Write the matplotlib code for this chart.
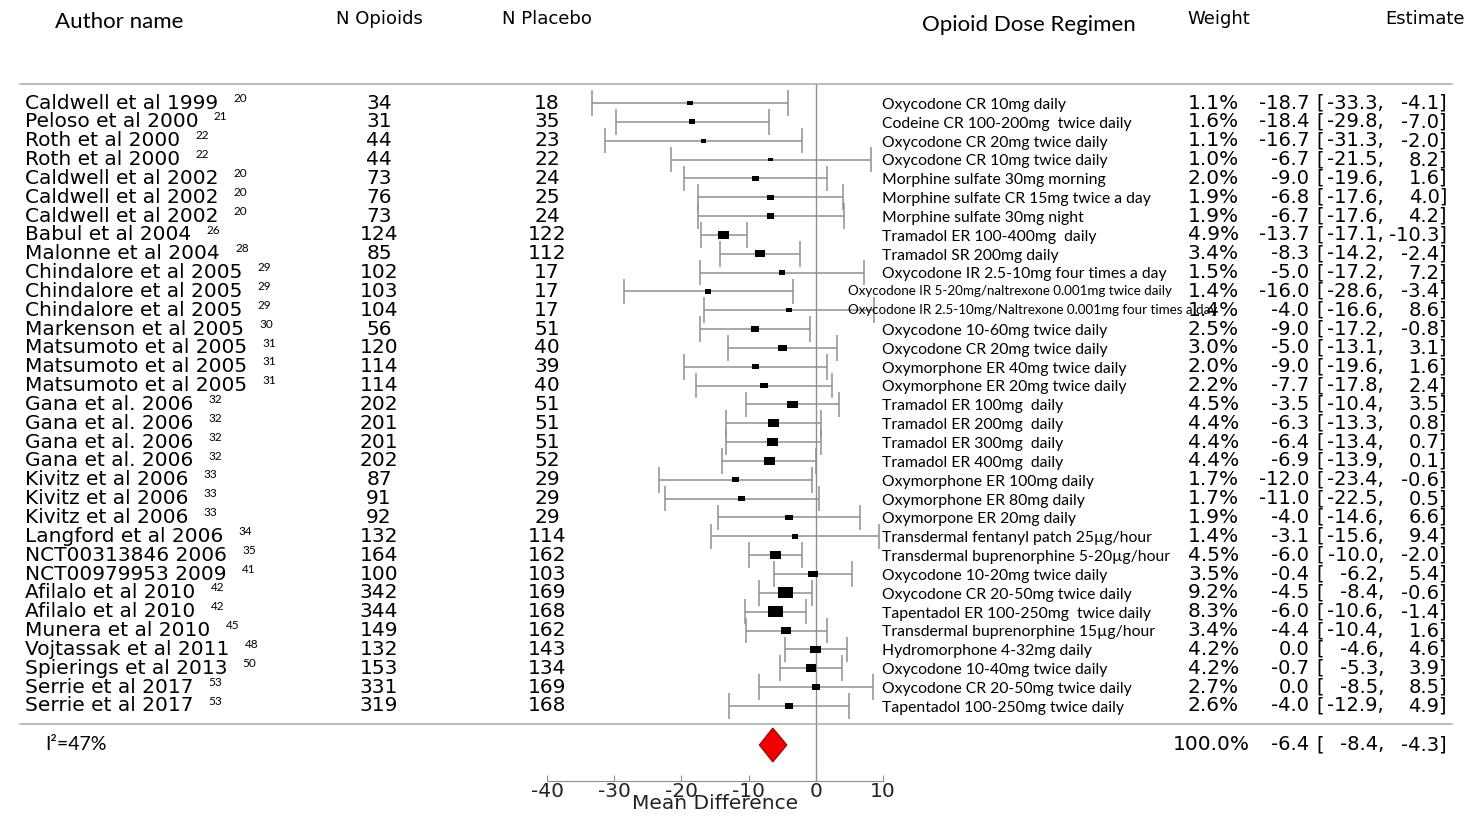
import numpy as np
import matplotlib
matplotlib.use("Agg")
import matplotlib.pyplot as plt
from matplotlib.transforms import blended_transform_factory
from matplotlib.patches import Polygon

authors = ["Caldwell et al 1999", "Peloso et al 2000", "Roth et al 2000", "Roth et al 2000",
           "Caldwell et al 2002", "Caldwell et al 2002", "Caldwell et al 2002", "Babul et al 2004",
           "Malonne et al 2004", "Chindalore et al 2005", "Chindalore et al 2005", "Chindalore et al 2005",
           "Markenson et al 2005", "Matsumoto et al 2005", "Matsumoto et al 2005", "Matsumoto et al 2005",
           "Gana et al. 2006", "Gana et al. 2006", "Gana et al. 2006", "Gana et al. 2006",
           "Kivitz et al 2006", "Kivitz et al 2006", "Kivitz et al 2006", "Langford et al 2006",
           "NCT00313846 2006", "NCT00979953 2009", "Afilalo et al 2010", "Afilalo et al 2010",
           "Munera et al 2010", "Vojtassak et al 2011", "Spierings et al 2013", "Serrie et al 2017",
           "Serrie et al 2017"]
refs = ["20", "21", "22", "22", "20", "20", "20", "26", "28", "29", "29", "29", "30", "31", "31", "31",
        "32", "32", "32", "32", "33", "33", "33", "34", "35", "41", "42", "42", "45", "48", "50", "53", "53"]
n_opioids = [34, 31, 44, 44, 73, 76, 73, 124, 85, 102, 103, 104, 56, 120, 114, 114,
             202, 201, 201, 202, 87, 91, 92, 132, 164, 100, 342, 344, 149, 132, 153, 331, 319]
n_placebo = [18, 35, 23, 22, 24, 25, 24, 122, 112, 17, 17, 17, 51, 40, 39, 40,
             51, 51, 51, 52, 29, 29, 29, 114, 162, 103, 169, 168, 162, 143, 134, 169, 168]
doses = ["Oxycodone CR 10mg daily",
         "Codeine CR 100-200mg  twice daily",
         "Oxycodone CR 20mg twice daily",
         "Oxycodone CR 10mg twice daily",
         "Morphine sulfate 30mg morning",
         "Morphine sulfate CR 15mg twice a day",
         "Morphine sulfate 30mg night",
         "Tramadol ER 100-400mg  daily",
         "Tramadol SR 200mg daily",
         "Oxycodone IR 2.5-10mg four times a day",
         "Oxycodone IR 5-20mg/naltrexone 0.001mg twice daily",
         "Oxycodone IR 2.5-10mg/Naltrexone 0.001mg four times a day",
         "Oxycodone 10-60mg twice daily",
         "Oxycodone CR 20mg twice daily",
         "Oxymorphone ER 40mg twice daily",
         "Oxymorphone ER 20mg twice daily",
         "Tramadol ER 100mg  daily",
         "Tramadol ER 200mg  daily",
         "Tramadol ER 300mg  daily",
         "Tramadol ER 400mg  daily",
         "Oxymorphone ER 100mg daily",
         "Oxymorphone ER 80mg daily",
         "Oxymorpone ER 20mg daily",
         "Transdermal fentanyl patch 25µg/hour",
         "Transdermal buprenorphine 5-20µg/hour",
         "Oxycodone 10-20mg twice daily",
         "Oxycodone CR 20-50mg twice daily",
         "Tapentadol ER 100-250mg  twice daily",
         "Transdermal buprenorphine 15µg/hour",
         "Hydromorphone 4-32mg daily",
         "Oxycodone 10-40mg twice daily",
         "Oxycodone CR 20-50mg twice daily",
         "Tapentadol 100-250mg twice daily"]
weights = [1.1, 1.6, 1.1, 1.0, 2.0, 1.9, 1.9, 4.9, 3.4, 1.5, 1.4, 1.4, 2.5, 3.0, 2.0, 2.2,
           4.5, 4.4, 4.4, 4.4, 1.7, 1.7, 1.9, 1.4, 4.5, 3.5, 9.2, 8.3, 3.4, 4.2, 4.2, 2.7, 2.6]
md = [-18.7, -18.4, -16.7, -6.7, -9.0, -6.8, -6.7, -13.7, -8.3, -5.0, -16.0, -4.0, -9.0, -5.0, -9.0, -7.7,
      -3.5, -6.3, -6.4, -6.9, -12.0, -11.0, -4.0, -3.1, -6.0, -0.4, -4.5, -6.0, -4.4, 0.0, -0.7, 0.0, -4.0]
ci_low = [-33.3, -29.8, -31.3, -21.5, -19.6, -17.6, -17.6, -17.1, -14.2, -17.2, -28.6, -16.6, -17.2, -13.1,
          -19.6, -17.8, -10.4, -13.3, -13.4, -13.9, -23.4, -22.5, -14.6, -15.6, -10.0, -6.2, -8.4, -10.6,
          -10.4, -4.6, -5.3, -8.5, -12.9]
ci_high = [-4.1, -7.0, -2.0, 8.2, 1.6, 4.0, 4.2, -10.3, -2.4, 7.2, -3.4, 8.6, -0.8, 3.1, 1.6, 2.4,
           3.5, 0.8, 0.7, 0.1, -0.6, 0.5, 6.6, 9.4, -2.0, 5.4, -0.6, -1.4, 1.6, 4.6, 3.9, 8.5, 4.9]
pooled = (-6.4, -8.4, -4.3)
i2_text = "I²=47%"
x_ticks = [-40, -30, -20, -10, 0, 10]

W, H = 1470, 816
SANS = "DejaVu Sans"
CALIB = "Lato"
GREY = "#8f8f8f"
FS = 14.5
FS_EST = 14.0

plt.rcParams["axes.unicode_minus"] = False


def fx(px):
    return px / W


def fy(py):
    return 1 - py / H


fig = plt.figure(figsize=(14.7, 8.16), dpi=100)
ax = fig.add_axes([fx(547), fy(781), fx(883) - fx(547), (781 - 84) / H])

rows = np.arange(len(authors))
row_px = 18.84
summary_y = (745 - 103) / row_px
ax.set_xlim(-40, 10)
ax.set_ylim((781 - 103) / row_px, -(103 - 84) / row_px)

# confidence intervals with caps
ax.hlines(rows, ci_low, ci_high, color=GREY, lw=1.1)
ax.vlines(ci_low, rows - 0.68, rows + 0.68, color=GREY, lw=1.1)
ax.vlines(ci_high, rows - 0.68, rows + 0.68, color=GREY, lw=1.1)
ax.axvline(0, color=GREY, lw=1.0, zorder=1)

rect = [(-1.4, -1), (1.4, -1), (1.4, 1), (-1.4, 1), (-1.4, -1)]
ax.scatter(md, rows, s=np.array(weights) * 14, marker=rect, c="black", linewidths=0, zorder=3)

# pooled diamond
est, lo, hi = pooled
dia = Polygon([(lo, summary_y), (est, summary_y - 0.9), (hi, summary_y), (est, summary_y + 0.9)],
              closed=True, facecolor="#ee0000", edgecolor="#990000", lw=0.8, zorder=3)
ax.add_patch(dia)

for side in ["top", "right", "left"]:
    ax.spines[side].set_visible(False)
ax.spines["bottom"].set_color(GREY)
ax.set_yticks([])
ax.set_xticks(x_ticks)
ax.tick_params(axis="x", direction="in", length=4, color=GREY, pad=1, labelsize=FS)
for lab in ax.get_xticklabels():
    lab.set_fontfamily(SANS)
    lab.set_color("#222222")
ax.set_xlabel("Mean Difference", fontsize=FS, family=SANS, labelpad=-5.5, color="#222222")

tr = blended_transform_factory(fig.transFigure, ax.transData)

# separator lines
for yy in [-1.0, 32.96]:
    ax.plot([fx(20), fx(1452)], [yy, yy], transform=tr, color="#a8a8a8", lw=1.1, clip_on=False)

# headers
fig.text(fx(55), fy(22), "Author name", family=CALIB, fontsize=16, va="center", ha="left")
fig.text(fx(379), fy(19), "N Opioids", family=SANS, fontsize=13, va="center", ha="center")
fig.text(fx(547), fy(19), "N Placebo", family=SANS, fontsize=13, va="center", ha="center")
fig.text(fx(1029), fy(25), "Opioid Dose Regimen", family=CALIB, fontsize=16, va="center", ha="center")
fig.text(fx(1219), fy(19), "Weight", family=SANS, fontsize=13, va="center", ha="center")
fig.text(fx(1465), fy(19), "Estimate", family=SANS, fontsize=13, va="center", ha="right")


def estimate_cells(y, point, low, high):
    ax.text(fx(1309), y, f"{point:.1f}", transform=tr, family=SANS, fontsize=FS_EST,
            va="center", ha="right", clip_on=False)
    ax.text(fx(1316), y, "[", transform=tr, family=SANS, fontsize=FS_EST,
            va="center", ha="left", clip_on=False)
    ax.text(fx(1384), y, f"{low:.1f},", transform=tr, family=SANS, fontsize=FS_EST,
            va="center", ha="right", clip_on=False)
    ax.text(fx(1447), y, f"{high:.1f}]", transform=tr, family=SANS, fontsize=FS_EST,
            va="center", ha="right", clip_on=False)


for i in rows:
    name = ax.text(fx(25), i, authors[i], transform=tr, family=SANS, fontsize=FS,
                   va="center", ha="left", clip_on=False)
    ax.annotate(refs[i], xy=(1, 0.5), xycoords=name, xytext=(11, 3.5), textcoords="offset points",
                family=CALIB, fontsize=8.5, va="center", ha="left", annotation_clip=False)
    ax.text(fx(379), i, str(n_opioids[i]), transform=tr, family=SANS, fontsize=FS,
            va="center", ha="center", clip_on=False)
    ax.text(fx(547), i, str(n_placebo[i]), transform=tr, family=SANS, fontsize=FS,
            va="center", ha="center", clip_on=False)
    if len(doses[i]) > 45:
        ax.text(fx(848), i, doses[i], transform=tr, family=CALIB, fontsize=9.6,
                va="center", ha="left", clip_on=False)
    else:
        ax.text(fx(882), i + 0.1, doses[i], transform=tr, family=CALIB, fontsize=11.3,
                va="center", ha="left", clip_on=False)
    ax.text(fx(1239), i, f"{weights[i]:.1f}%", transform=tr, family=SANS, fontsize=FS,
            va="center", ha="right", clip_on=False)
    estimate_cells(i, md[i], ci_low[i], ci_high[i])

# summary row
ax.text(fx(45), summary_y, i2_text, transform=tr, family=CALIB, fontsize=14, va="center",
        ha="left", clip_on=False)
ax.text(fx(1250), summary_y, "100.0%", transform=tr, family=SANS, fontsize=FS,
        va="center", ha="right", clip_on=False)
estimate_cells(summary_y, est, lo, hi)

fig.savefig("out.png", dpi=100)
